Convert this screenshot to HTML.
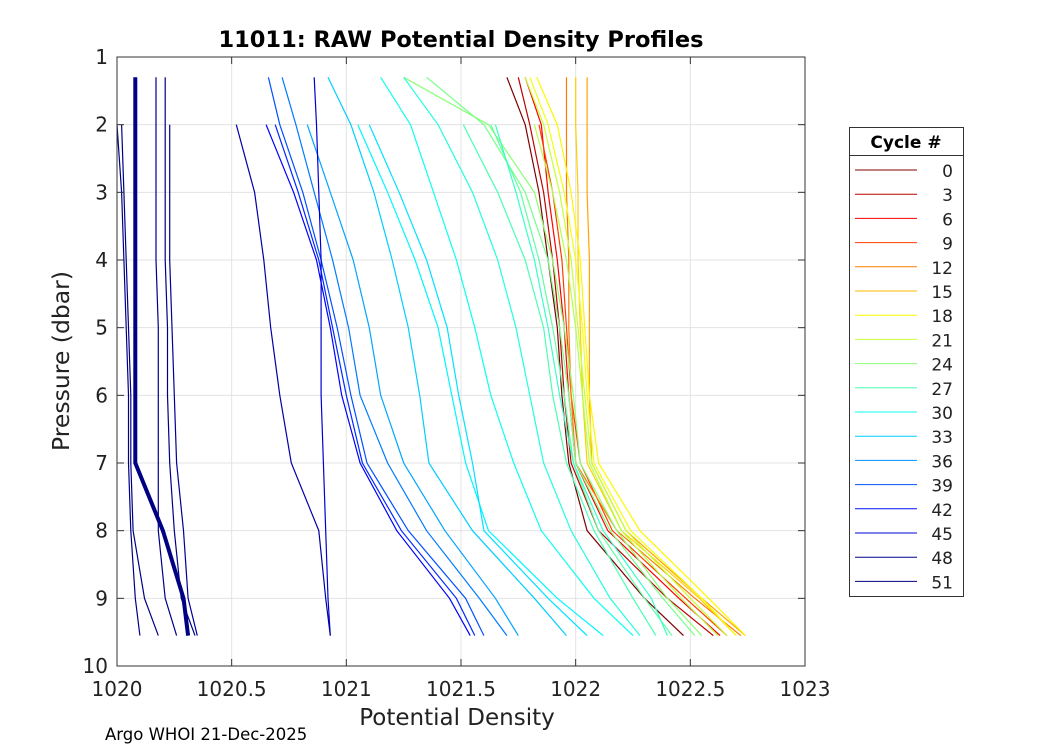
<!DOCTYPE html>
<html><head><meta charset="utf-8"><style>
body{margin:0;background:#fff;font-family:"DejaVu Sans","Liberation Sans",sans-serif}
svg{display:block}
</style></head><body>
<svg id="chart" width="1050" height="750" xmlns="http://www.w3.org/2000/svg" font-family="DejaVu Sans, Liberation Sans, sans-serif">
<rect width="1050" height="750" fill="#fff"/>
<text x="461" y="47" text-anchor="middle" font-size="22.5" font-weight="bold" fill="#000">11011: RAW Potential Density Profiles</text>
<text x="457" y="725" text-anchor="middle" font-size="23" fill="#222">Potential Density</text>
<text transform="translate(69,361) rotate(-90)" text-anchor="middle" font-size="23.5" fill="#222">Pressure (dbar)</text>
<text x="105" y="740" font-size="16.5" fill="#000">Argo WHOI 21-Dec-2025</text>
<g id="grid"></g><g id="lines"></g><g id="axes"></g><g id="legend"></g>
</svg>
<script>
const xTicks=[1020,1020.5,1021,1021.5,1022,1022.5,1023];
const xTickLabels=["1020","1020.5","1021","1021.5","1022","1022.5","1023"];
const yTicks=[1,2,3,4,5,6,7,8,9,10];
const pressures=[1.3,2,3,4,5,6,7,8,9,9.55];
const cycles=[0,3,6,9,12,14,16,18,19,21,22,24,25,26,27,28,29,30,31,32,33,35,37,39,41,43,45,47,48,49,50,51,52,53];
const p0=[1021.70,1021.78,1021.84,1021.88,1021.92,1021.94,1021.97,1022.05,1022.30,1022.47];
const p3=[1021.75,1021.80,1021.86,1021.90,1021.93,1021.95,1021.98,1022.10,1022.40,1022.60];
const p6=[1021.78,1021.85,1021.88,1021.92,1021.95,1021.97,1022.00,1022.14,1022.45,1022.63];
const p9=[null,1021.84,1021.90,1021.94,1021.96,1021.98,1022.02,1022.16,1022.48,1022.66];
const p12=[1021.96,1021.96,1021.96,1021.97,1021.97,1021.98,1022.00,1022.18,1022.52,1022.72];
const p14=[1022.05,1022.05,1022.05,1022.06,1022.06,1022.06,1022.07,1022.22,1022.55,1022.74];
const p16=[1022.00,1022.00,1022.01,1022.01,1022.02,1022.03,1022.05,1022.20,1022.54,1022.70];
const p18=[1021.83,1021.92,1021.98,1022.02,1022.04,1022.06,1022.10,1022.28,1022.58,1022.74];
const p19=[1021.80,1021.88,1021.95,1022.00,1022.03,1022.05,1022.08,1022.24,1022.55,1022.70];
const p21=[1021.78,1021.86,1021.93,1021.98,1022.01,1022.04,1022.07,1022.22,1022.50,1022.66];
const p22=[null,1021.82,1021.90,1021.96,1022.00,1022.03,1022.06,1022.20,1022.46,1022.62];
const p24=[1021.25,1021.62,1021.82,1021.90,1021.95,1021.99,1022.02,1022.18,1022.40,1022.55];
const p25=[1021.35,1021.60,1021.78,1021.88,1021.93,1021.97,1022.00,1022.15,1022.38,1022.52];
const p26=[null,1021.63,1021.76,1021.84,1021.90,1021.95,1021.99,1022.10,1022.30,1022.42];
const p27=[null,1021.51,1021.66,1021.78,1021.86,1021.90,1021.96,1022.08,1022.25,1022.35];
const p28=[null,1021.65,1021.74,1021.82,1021.88,1021.93,1021.99,1022.12,1022.33,1022.40];
const p29=[1021.25,1021.40,1021.55,1021.66,1021.74,1021.80,1021.86,1021.98,1022.15,1022.28];
const p30=[1021.15,1021.28,1021.38,1021.48,1021.56,1021.63,1021.73,1021.85,1022.08,1022.25];
const p31=[null,1021.05,1021.18,1021.30,1021.40,1021.46,1021.52,1021.62,1021.92,1022.12];
const p32=[null,1021.10,1021.23,1021.35,1021.44,1021.49,1021.55,1021.60,1021.88,1022.05];
const p33=[1020.92,1021.02,1021.12,1021.20,1021.27,1021.32,1021.36,1021.55,1021.82,1021.96];
const p35=[null,1020.83,1020.93,1021.03,1021.10,1021.15,1021.25,1021.43,1021.65,1021.75];
const p37=[1020.72,1020.78,1020.86,1020.94,1021.01,1021.06,1021.18,1021.35,1021.58,1021.70];
const p39=[1020.66,1020.71,1020.81,1020.89,1020.96,1021.02,1021.09,1021.27,1021.52,1021.60];
const p41=[null,1020.69,1020.79,1020.88,1020.94,1021.00,1021.07,1021.24,1021.48,1021.56];
const p43=[null,1020.65,1020.77,1020.87,1020.93,1020.98,1021.06,1021.22,1021.45,1021.54];
const p45=[1020.86,1020.87,1020.88,1020.89,1020.89,1020.89,1020.90,1020.91,1020.92,1020.93];
const p47=[null,1020.52,1020.60,1020.64,1020.67,1020.71,1020.76,1020.88,1020.91,1020.93];
const p48=[null,1020.23,1020.23,1020.23,1020.24,1020.25,1020.26,1020.29,1020.31,1020.35];
const p49=[1020.21,1020.21,1020.21,1020.21,1020.22,1020.22,1020.23,1020.25,1020.28,1020.34];
const p50=[1020.08,1020.08,1020.08,1020.08,1020.08,1020.08,1020.08,1020.20,1020.29,1020.31];
const p51=[1020.17,1020.17,1020.17,1020.17,1020.18,1020.18,1020.18,1020.18,1020.21,1020.26];
const p52=[null,1020.02,1020.03,1020.04,1020.05,1020.06,1020.06,1020.07,1020.12,1020.18];
const p53=[null,1020.00,1020.02,1020.03,1020.04,1020.05,1020.05,1020.06,1020.08,1020.10];
const profiles=[p0,p3,p6,p9,p12,p14,p16,p18,p19,p21,p22,p24,p25,p26,p27,p28,p29,p30,p31,p32,p33,p35,p37,p39,p41,p43,p45,p47,p48,p49,p50,p51,p52,p53];
const legendCycles=[0,3,6,9,12,15,18,21,24,27,30,33,36,39,42,45,48,51];

const X0=117,X1=805,Y0=57,Y1=666;
const xS=d=>X0+(d-1020)/3*(X1-X0);
const yS=p=>Y0+(p-1)/9*(Y1-Y0);
const NS="http://www.w3.org/2000/svg";
function mk(tag,attrs,parent){const e=document.createElementNS(NS,tag);for(const k in attrs)e.setAttribute(k,attrs[k]);parent.appendChild(e);return e;}
function jet(c){const t=Math.max(0.005,1-c/49);const cl=v=>Math.round(255*Math.max(0,Math.min(1,v)));
return `rgb(${cl(1.5-Math.abs(4*t-3))},${cl(1.5-Math.abs(4*t-2))},${cl(1.5-Math.abs(4*t-1))})`;}
const grid=document.getElementById('grid'),axes=document.getElementById('axes'),lines=document.getElementById('lines'),leg=document.getElementById('legend');
xTicks.forEach((v,i)=>{
 const g=mk('line',{x1:xS(v),x2:xS(v),y1:Y0,y2:Y1,stroke:'#e3e3e3','stroke-width':1},grid);
 
 
 mk('line',{x1:xS(v),x2:xS(v),y1:Y1,y2:Y1-7,stroke:'#333'},axes);
 mk('line',{x1:xS(v),x2:xS(v),y1:Y0,y2:Y0+7,stroke:'#333'},axes);
 const t=mk('text',{x:xS(v),y:Y1+30,'text-anchor':'middle','font-size':20,fill:'#222'},axes);
 t.textContent=xTickLabels[i];
 
 
});
yTicks.forEach(v=>{
 const g=mk('line',{x1:X0,x2:X1,y1:yS(v),y2:yS(v),stroke:'#e3e3e3','stroke-width':1},grid);
 
 
 mk('line',{x1:X0,x2:X0+7,y1:yS(v),y2:yS(v),stroke:'#333'},axes);
 mk('line',{x1:X1,x2:X1-7,y1:yS(v),y2:yS(v),stroke:'#333'},axes);
 const t=mk('text',{x:X0-9,y:yS(v)+7,'text-anchor':'end','font-size':20,fill:'#222'},axes);
 t.textContent=String(v);
 
 
});
const fr=mk('rect',{x:X0,y:Y0,width:X1-X0,height:Y1-Y0,fill:'none',stroke:'#333','stroke-width':1},axes);


profiles.forEach((arr,i)=>{
 const pts=[];arr.forEach((d,j)=>{if(d!==null)pts.push(xS(d).toFixed(1)+','+yS(pressures[j]).toFixed(1));});
 const pl=mk('polyline',{points:pts.join(' '),fill:'none',stroke:jet(cycles[i]),'stroke-width':cycles[i]===50?4:1.2},lines);
 
 
});
const lb=mk('rect',{x:849.5,y:127.5,width:114,height:469,fill:'#fff',stroke:'#333'},leg);


mk('line',{x1:849.5,x2:963.5,y1:155.5,y2:155.5,stroke:'#333'},leg);
const lt=mk('text',{x:906,y:148,'text-anchor':'middle','font-size':17,'font-weight':'bold',fill:'#000'},leg);
lt.textContent='Cycle #';


legendCycles.forEach((c,i)=>{
 const y=170+i*24.2;
 const l=mk('line',{x1:855,x2:917,y1:y,y2:y,stroke:jet(c),'stroke-width':1},leg);
 
 
 const t=mk('text',{x:953,y:y+7,'text-anchor':'end','font-size':17,fill:'#222'},leg);
 t.textContent=String(c);
 
 
});
</script>
</body></html>
